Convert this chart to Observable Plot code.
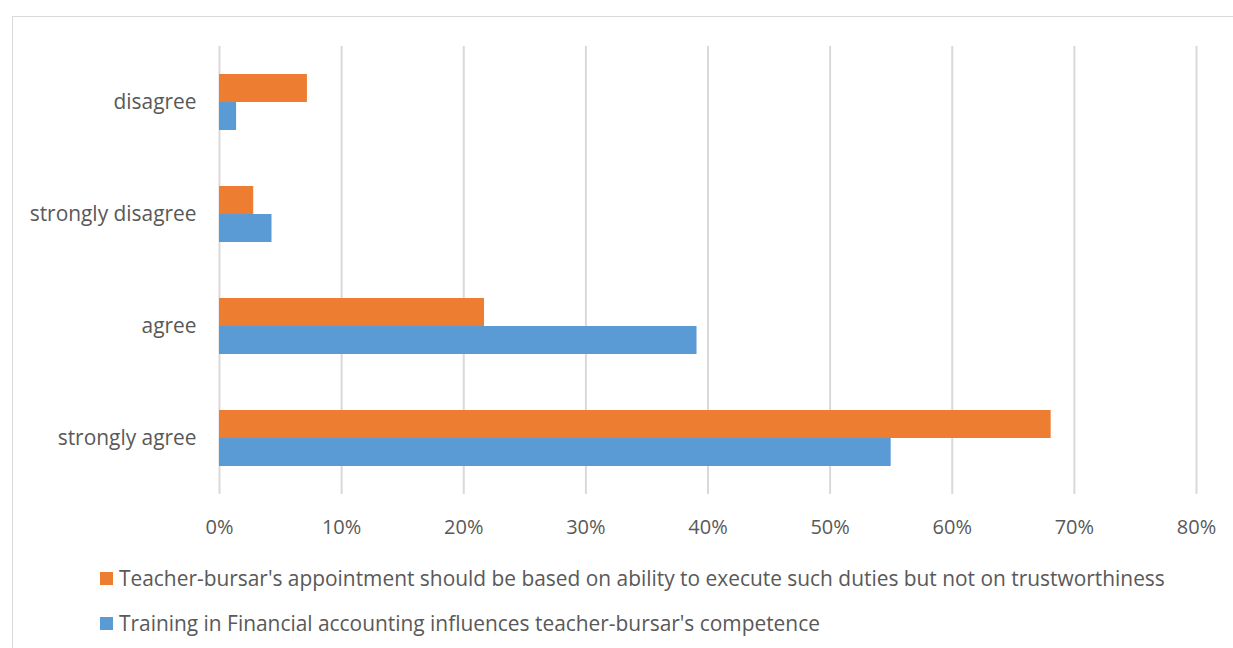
<!DOCTYPE html>
<html>
<head>
<meta charset="utf-8">
<script src="https://cdn.jsdelivr.net/npm/d3@7"></script>
<script src="https://cdn.jsdelivr.net/npm/@observablehq/plot@0.6"></script>
<style>
  html, body { margin: 0; padding: 0; background: #fff; }
  body { width: 1233px; height: 648px; position: relative; overflow: hidden; font-family: "Open Sans", sans-serif; }
  #frame { position: absolute; left: 12px; top: 16px; width: 1300px; height: 700px; border: 1px solid #d9d9d9; box-sizing: border-box; }
  #chart { position: absolute; left: 0; top: 0; }
  .legend-item { position: absolute; left: 100px; display: flex; align-items: center; font-size: 20.9px; line-height: 20px; color: #595959; white-space: nowrap; }
  .swatch { width: 13px; height: 13px; margin-right: 6px; flex: none; }
  .fy-labels text { font-size: 20.9px; }
</style>
</head>
<body>
<div id="frame"></div>
<div id="chart"></div>
<div id="legend"></div>
<script>
// Survey responses (percent of respondents), listed top to bottom
const categories = ["disagree", "strongly disagree", "agree", "strongly agree"];
const seriesNames = [
  "Teacher-bursar's appointment should be based on ability to execute such duties but not on trustworthiness",
  "Training in Financial accounting influences teacher-bursar's competence"
];
const appointmentValues = [7.2, 2.8, 21.7, 68.1];
const trainingValues = [1.4, 4.3, 39.1, 55.0];
const seriesColors = ["#ED7D31", "#5B9BD5"];
const xTicks = [0, 10, 20, 30, 40, 50, 60, 70, 80];

const rows = [];
categories.forEach((c, i) => {
  rows.push({category: c, series: seriesNames[0], value: appointmentValues[i]});
  rows.push({category: c, series: seriesNames[1], value: trainingValues[i]});
});

const chart = Plot.plot({
  width: 1233,
  height: 540,
  marginLeft: 219,
  marginRight: 37,
  marginTop: 45,
  marginBottom: 46,
  style: {fontFamily: "'Open Sans', sans-serif", fontSize: "20px", color: "#595959", background: "transparent", overflow: "visible"},
  x: {domain: [0, 80], ticks: xTicks, tickFormat: d => d + "%", tickSize: 0, tickPadding: 25, label: null},
  fy: {domain: categories, padding: 0, axis: "left", tickSize: 0, tickPadding: 23, label: null},
  y: {domain: seriesNames, axis: null, paddingInner: 0, paddingOuter: 0.935},
  color: {domain: seriesNames, range: seriesColors},
  marks: [
    Plot.gridX(xTicks, {stroke: "#d9d9d9", strokeOpacity: 1, strokeWidth: 2}),
    Plot.barX(rows, {x: "value", y: "series", fy: "category", fill: "series"})
  ]
});
// category labels are set a little larger than the percent ticks
chart.querySelectorAll("[aria-label='fy-axis tick label']").forEach(g => g.classList.add("fy-labels"));
document.getElementById("chart").appendChild(chart);

// Legend below the plot area
const legend = document.getElementById("legend");
seriesNames.forEach((name, i) => {
  const item = document.createElement("div");
  item.className = "legend-item";
  item.style.top = (568 + i * 45) + "px";
  const sw = document.createElement("span");
  sw.className = "swatch";
  sw.style.background = seriesColors[i];
  const label = document.createElement("span");
  label.textContent = name;
  item.appendChild(sw);
  item.appendChild(label);
  legend.appendChild(item);
});
</script>
</body>
</html>
